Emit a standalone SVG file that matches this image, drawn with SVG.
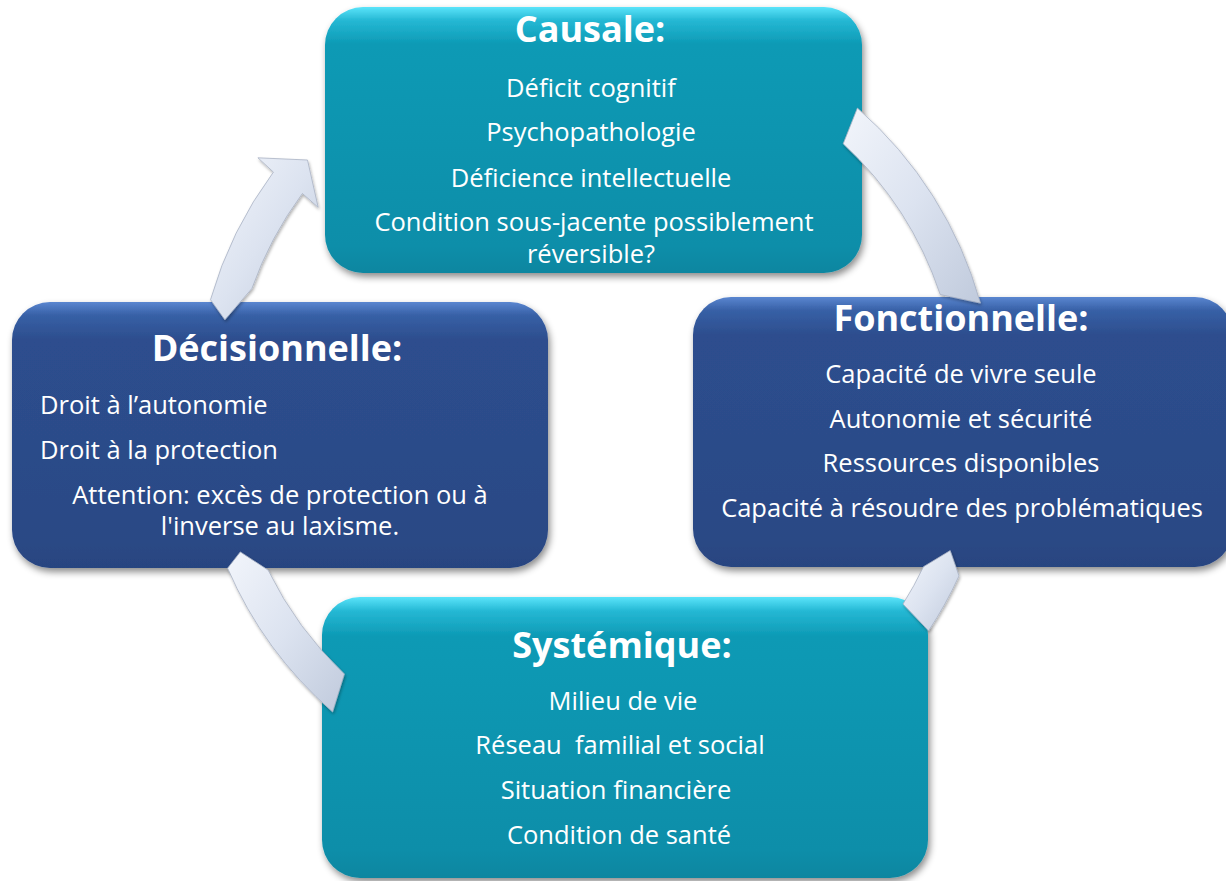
<svg xmlns="http://www.w3.org/2000/svg" width="1226" height="881" viewBox="0 0 1226 881">
<defs>
<linearGradient id="gTeal" x1="0" y1="0" x2="0" y2="1">
<stop offset="0" stop-color="#5ae4fa"/>
<stop offset="0.05" stop-color="#25b8d4"/>
<stop offset="0.14" stop-color="#0d9ab5"/>
<stop offset="0.9" stop-color="#0a8ea9"/>
<stop offset="1" stop-color="#0b86a0"/>
</linearGradient>
<linearGradient id="gBlue" x1="0" y1="0" x2="0" y2="1">
<stop offset="0" stop-color="#5a86d0"/>
<stop offset="0.05" stop-color="#3760a6"/>
<stop offset="0.14" stop-color="#2d4e8e"/>
<stop offset="0.9" stop-color="#2b4985"/>
<stop offset="1" stop-color="#284480"/>
</linearGradient>
<linearGradient id="gArrow" x1="0" y1="0" x2="1" y2="1">
<stop offset="0" stop-color="#f2f5fb"/>
<stop offset="0.5" stop-color="#dce3f0"/>
<stop offset="1" stop-color="#c0cadc"/>
</linearGradient>
<filter id="shadow" x="-10%" y="-10%" width="120%" height="125%">
<feDropShadow dx="2" dy="4" stdDeviation="3.5" flood-color="#000" flood-opacity="0.45"/>
</filter>
<filter id="ashadow" x="-20%" y="-20%" width="140%" height="140%">
<feDropShadow dx="1" dy="2" stdDeviation="1.5" flood-color="#000" flood-opacity="0.3"/>
</filter>
</defs>
<style>
.box { filter: url(#shadow); }
.teal { fill: url(#gTeal); }
.blue { fill: url(#gBlue); }
text { fill: #ffffff; font-family: "Open Sans", "Liberation Sans", sans-serif; }
.title { font-size: 36px; font-weight: bold; text-anchor: middle; }
.item { font-size: 25.5px; text-anchor: middle; }
.left { text-anchor: start; }
.arrow { fill: url(#gArrow); stroke: #a9b3c4; stroke-width: 0.8; filter: url(#ashadow); }
</style>
<rect width="1226" height="881" fill="#ffffff"/>

<g id="causale">
<rect class="box teal" x="325" y="7" width="537" height="266" rx="38"/>
<text class="title" x="590" y="42">Causale:</text>
<text class="item" x="591" y="97">Déficit cognitif</text>
<text class="item" x="591" y="141">Psychopathologie</text>
<text class="item" x="591" y="187">Déficience intellectuelle</text>
<text class="item" x="594" y="231">Condition sous-jacente possiblement</text>
<text class="item" x="591" y="263">réversible?</text>
</g>

<g id="decisionnelle">
<rect class="box blue" x="12" y="302" width="536" height="266" rx="38"/>
<text class="title" x="277" y="361">Décisionnelle:</text>
<text class="item left" x="40" y="414">Droit à l’autonomie</text>
<text class="item left" x="40" y="459">Droit à la protection</text>
<text class="item" x="280" y="504">Attention: excès de protection ou à</text>
<text class="item" x="280" y="535">l'inverse au laxisme.</text>
</g>

<g id="fonctionnelle">
<rect class="box blue" x="693" y="297" width="540" height="270" rx="38"/>
<text class="title" x="961" y="331">Fonctionnelle:</text>
<text class="item" x="961" y="383">Capacité de vivre seule</text>
<text class="item" x="961" y="428">Autonomie et sécurité</text>
<text class="item" x="961" y="472">Ressources disponibles</text>
<text class="item" x="962" y="517">Capacité à résoudre des problématiques</text>
</g>

<g id="systemique">
<rect class="box teal" x="322" y="597" width="606" height="281" rx="38"/>
<text class="title" x="622" y="658">Systémique:</text>
<text class="item" x="623" y="710">Milieu de vie</text>
<text class="item" x="620" y="754" xml:space="preserve">Réseau  familial et social</text>
<text class="item" x="616" y="799">Situation financière</text>
<text class="item" x="619" y="844">Condition de santé</text>
</g>

<g id="connectors">
<path class="arrow" d="M 857.4 108.1 A 400 400 0 0 1 980.4 303.1 L 940.2 294.5 A 364 364 0 0 0 843.2 143.8 Z"/>
<path class="arrow" d="M 950.2 550.6 L 959 575.9 A 400 400 0 0 1 928.6 630.8 L 903 604 A 364 364 0 0 0 923.5 566.7 Z"/>
<path class="arrow" d="M 332.6 711.9 A 400 400 0 0 1 227.6 568.2 L 240.3 551.9 L 268.1 570.1 A 364 364 0 0 0 344.4 674 Z"/>
<path class="arrow" d="M 210.5 299.7 A 400 400 0 0 1 273.4 172.1 L 257.9 157.8 L 307.5 160 L 318.2 207.4 L 302.4 193.5 A 364 364 0 0 0 251.9 288.5 L 224.9 319.8 Z"/>
</g>
</svg>
